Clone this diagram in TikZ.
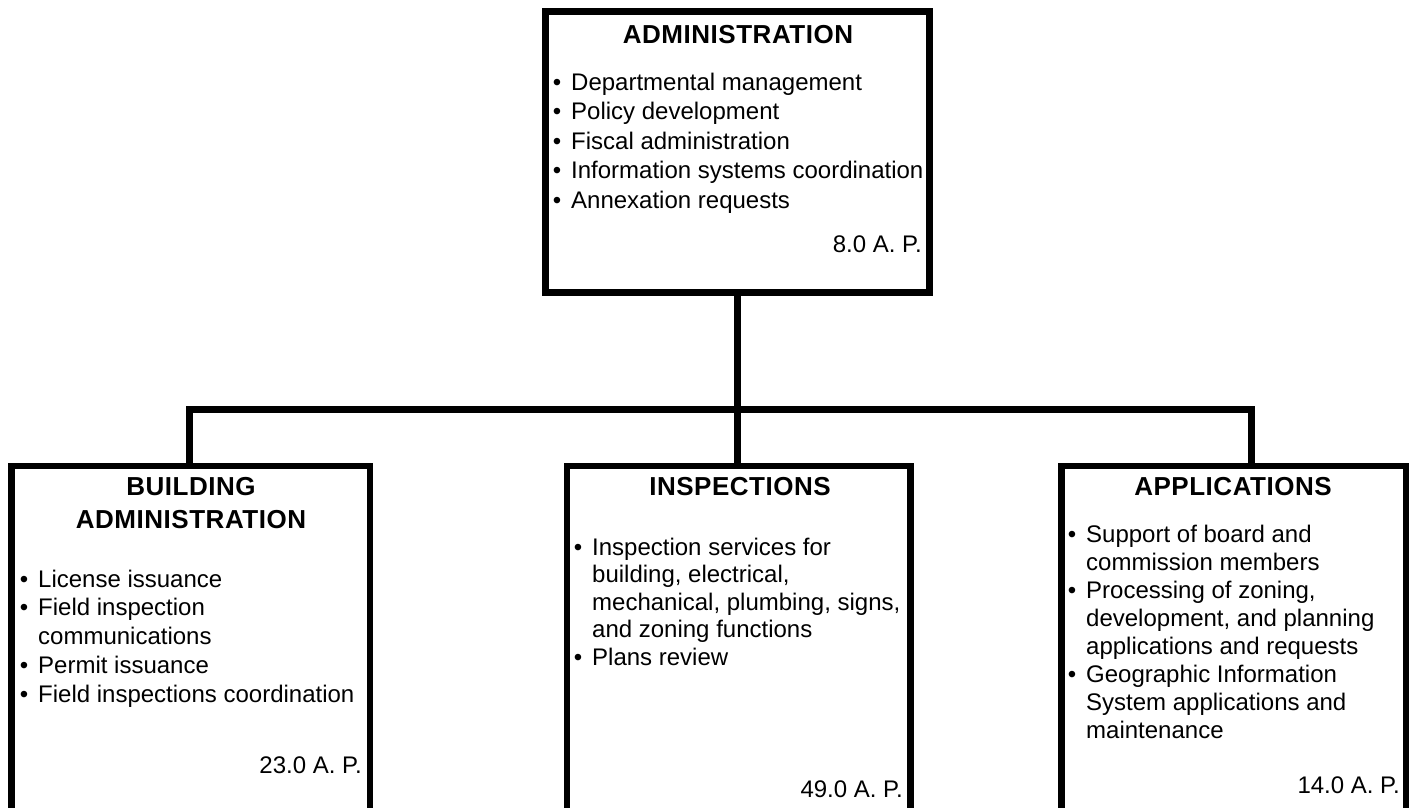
\documentclass[tikz,border=0pt]{standalone}
\usepackage{fontspec}
\setmainfont{Liberation Sans}
\newfontfamily\headfont{Liberation Sans}[LetterSpace=2]
\newcommand\bul{\llap{\textbullet\hspace{10pt}}}
\tikzset{
  box/.style={draw, line width=6.5pt, rectangle, inner sep=0pt, fill=white},
  link/.style={line width=7pt, line join=miter},
  body/.style={font=\fontsize{24}{29}\selectfont, inner sep=0pt, anchor=base west},
  head/.style={font=\headfont\bfseries\fontsize{26}{33}\selectfont, inner sep=0pt, anchor=base},
  fte/.style={font=\fontsize{24}{29}\selectfont, inner sep=0pt, anchor=base east},
}
\begin{document}
\begin{tikzpicture}[x=1pt, y=-1pt]
  \useasboundingbox (0,0) rectangle (1413,807);
  \fill[white] (0,0) rectangle (1413,807);
  \clip (0,0) rectangle (1413,807);

  % boxes
  \node[box, minimum width=384pt, minimum height=281pt] (admin) at (737.5,152) {};
  \node[box, minimum width=358.5pt, minimum height=364pt] (bldg) at (190.75,648) {};
  \node[box, minimum width=343.5pt, minimum height=364pt] (insp) at (738.75,648) {};
  \node[box, minimum width=344.5pt, minimum height=364pt] (apps) at (1233.75,648) {};

  % connectors
  \coordinate (barL) at (189,409);
  \coordinate (barR) at (1251,409);
  \draw[link] (admin.south) -- (admin.south |- insp.north);
  \draw[link] (barL |- bldg.north) -- (barL) -- (barR) -- (barR |- apps.north);

  % administration
  \node[head] (adm-h) at (738,43) {ADMINISTRATION};
  \foreach \t [count=\i from 0] in {
      {\bul Departmental management},
      {\bul Policy development},
      {\bul Fiscal administration},
      {\bul Information systems coordination},
      {\bul Annexation requests}}
    \node[body] (adm-\i) at (571,{90+29.5*\i}) {\t};
  \node[fte] (adm-f) at (922,252) {8.0 A. P.};

  % building administration
  \node[head] (bld-h1) at (191,495) {BUILDING};
  \node[head] (bld-h2) at (191,528) {ADMINISTRATION};
  \foreach \t [count=\i from 0] in {
      {\bul License issuance},
      {\bul Field inspection},
      {communications},
      {\bul Permit issuance},
      {\bul Field inspections coordination}}
    \node[body] (bld-\i) at (38,{587+28.75*\i}) {\t};
  \node[fte] (bld-f) at (362,773) {23.0 A. P.};

  % inspections
  \node[head] (ins-h) at (740,495) {INSPECTIONS};
  \foreach \t [count=\i from 0] in {
      {\bul Inspection services for},
      {building, electrical,},
      {mechanical, plumbing, signs,},
      {and zoning functions},
      {\bul Plans review}}
    \node[body] (ins-\i) at (592,{555+27.5*\i}) {\t};
  \node[fte] (ins-f) at (903,797) {49.0 A. P.};

  % applications
  \node[head] (app-h) at (1233,495) {APPLICATIONS};
  \foreach \t [count=\i from 0] in {
      {\bul Support of board and},
      {commission members},
      {\bul Processing of zoning,},
      {development, and planning},
      {applications and requests},
      {\bul Geographic Information},
      {System applications and},
      {maintenance}}
    \node[body] (app-\i) at (1086,{542+28*\i}) {\t};
  \node[fte] (app-f) at (1400,793) {14.0 A. P.};
\end{tikzpicture}
\end{document}
